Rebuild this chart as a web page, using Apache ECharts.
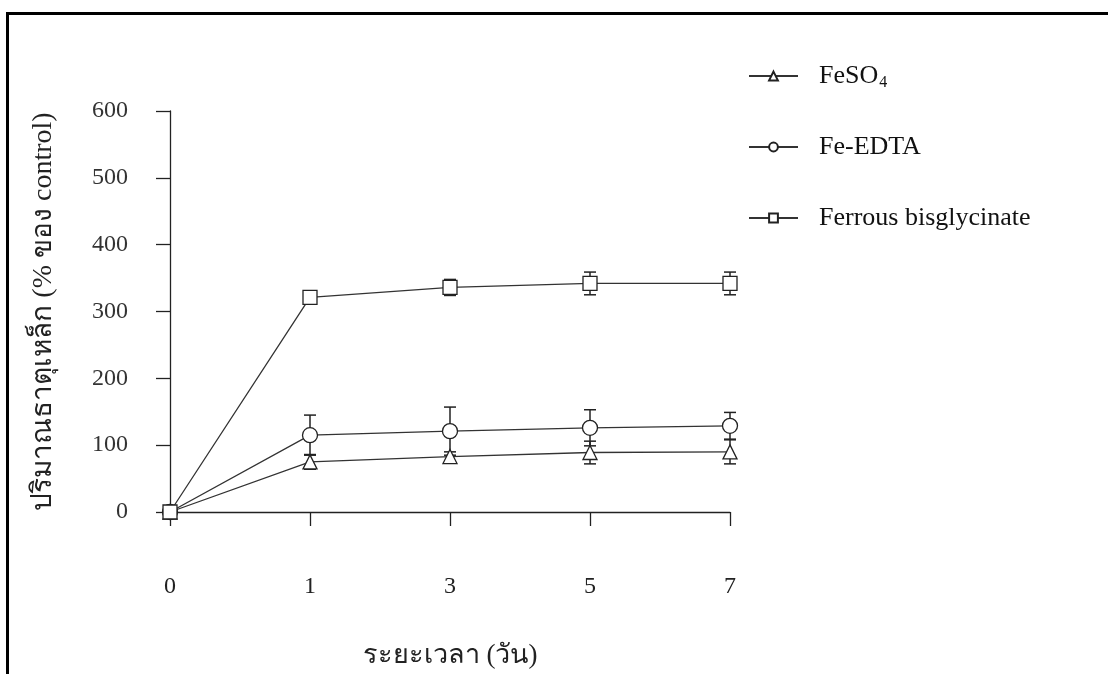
<!DOCTYPE html>
<html><head><meta charset="utf-8">
<script src="https://cdn.jsdelivr.net/npm/echarts@6/dist/echarts.min.js"></script>
<style>html,body{margin:0;padding:0;background:#fff}#c{width:1108px;height:674px}</style>
</head><body><div id="c"></div>
<script>
const categories = ['0', '1', '3', '5', '7'];
const seriesNames = ['FeSO4', 'Fe-EDTA', 'Ferrous bisglycinate'];
const feso4 = [0, 75, 83, 89, 90];
const feso4Err = [0, 11, 7, 17, 18];
const feEdta = [0, 115, 121, 126, 129];
const feEdtaErr = [0, 30, 36, 27, 20];
const ferrous = [0, 321, 336, 342, 342];
const ferrousErr = [0, 10, 12, 17, 17];
const yTicks = [0, 100, 200, 300, 400, 500, 600];
const xTitle = 'ระยะเวลา (วัน)';
const yTitle = 'ปริมาณธาตุเหล็ก (% ของ control)';

const FONT = '"Liberation Serif", "Times New Roman", serif';
const chart = echarts.init(document.getElementById('c'), null, {renderer: 'canvas'});

function errData(vals, errs) {
  return vals.map((v, i) => [i, v - errs[i], v + errs[i], errs[i]]);
}
function errSeries(vals, errs) {
  return {
    type: 'custom', z: 1, silent: true,
    data: errData(vals, errs),
    renderItem: function (params, api) {
      if (api.value(3) <= 0) return null;
      const x = api.value(0);
      const lo = api.coord([x, api.value(1)]);
      const hi = api.coord([x, api.value(2)]);
      const w = 6;
      const st = {stroke: '#222', lineWidth: 1.5};
      return {type: 'group', children: [
        {type: 'line', shape: {x1: lo[0], y1: lo[1], x2: hi[0], y2: hi[1]}, style: st},
        {type: 'line', shape: {x1: lo[0] - w, y1: lo[1], x2: lo[0] + w, y2: lo[1]}, style: st},
        {type: 'line', shape: {x1: hi[0] - w, y1: hi[1], x2: hi[0] + w, y2: hi[1]}, style: st}
      ]};
    }
  };
}
function lineSeries(name, vals, symbol, size) {
  return {
    name: name, type: 'line', data: vals, z: 3,
    symbol: symbol, symbolSize: size, showAllSymbol: true,
    lineStyle: {color: '#333', width: 1.3},
    itemStyle: {color: '#fff', borderColor: '#222', borderWidth: 1.3}
  };
}

const option = {
  backgroundColor: '#fff',
  animation: false,
  grid: {left: 170, right: 378, top: 111, bottom: 162},
  legend: {
    orient: 'vertical', left: 743, top: 56,
    itemWidth: 49, itemHeight: 11, itemGap: 41,
    data: seriesNames,
    formatter: function (n) { return n === 'FeSO4' ? 'FeSO{sub|4}' : n; },
    textStyle: {
      fontFamily: FONT, fontSize: 26, lineHeight: 30, color: '#111', padding: [0, 0, 0, 16],
      rich: {sub: {fontFamily: FONT, fontSize: 16, lineHeight: 30, color: '#111', padding: [14, 0, 0, 1]}}
    }
  },
  xAxis: {
    type: 'category', data: categories, boundaryGap: false,
    name: xTitle, nameLocation: 'middle', nameGap: 130,
    nameTextStyle: {fontFamily: FONT, fontSize: 27, color: '#222'},
    axisLine: {lineStyle: {color: '#222', width: 1.3}},
    axisTick: {length: 14, alignWithLabel: true, lineStyle: {color: '#222', width: 1.3}},
    axisLabel: {margin: 63, fontFamily: FONT, fontSize: 24, color: '#222'},
    splitLine: {show: false}
  },
  yAxis: {
    type: 'value', min: yTicks[0], max: yTicks[yTicks.length - 1], interval: 100,
    name: yTitle, nameLocation: 'middle', nameGap: 112, nameRotate: 90,
    nameTextStyle: {fontFamily: FONT, fontSize: 28, color: '#222'},
    axisLine: {show: true, lineStyle: {color: '#222', width: 1.3}},
    axisTick: {show: true, length: 14, lineStyle: {color: '#222', width: 1.3}},
    axisLabel: {margin: 42, fontFamily: FONT, fontSize: 24, color: '#333'},
    splitLine: {show: false}
  },
  graphic: [
    {type: 'line', shape: {x1: 6, y1: 13.5, x2: 1108, y2: 13.5}, style: {stroke: '#000', lineWidth: 3}},
    {type: 'line', shape: {x1: 7.5, y1: 12, x2: 7.5, y2: 674}, style: {stroke: '#000', lineWidth: 3}}
  ],
  series: [
    errSeries(feso4, feso4Err),
    errSeries(feEdta, feEdtaErr),
    errSeries(ferrous, ferrousErr),
    lineSeries(seriesNames[0], feso4, 'triangle', 14),
    lineSeries(seriesNames[1], feEdta, 'circle', 15),
    lineSeries(seriesNames[2], ferrous, 'rect', 14)
  ]
};
chart.setOption(option);
</script></body></html>
